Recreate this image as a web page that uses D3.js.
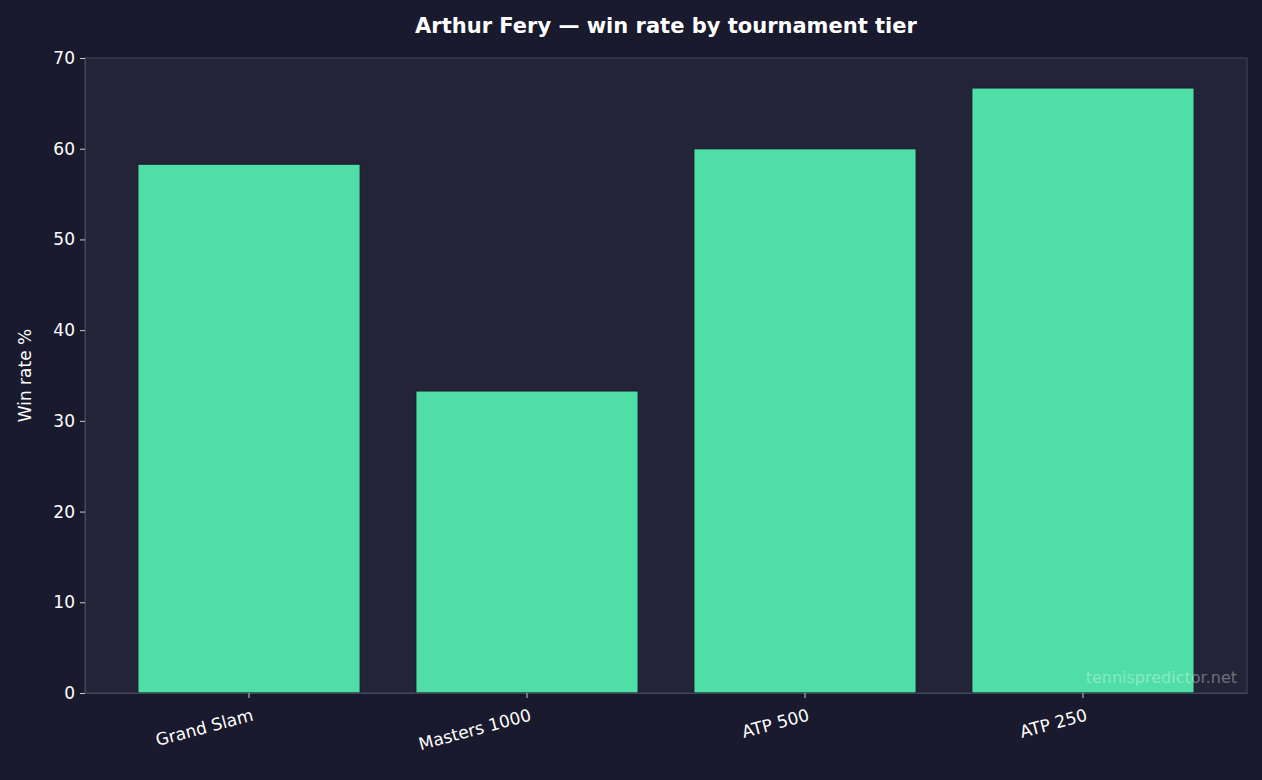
<!DOCTYPE html>
<html>
<head>
<meta charset="utf-8">
<script src="https://cdn.jsdelivr.net/npm/d3@7"></script>
<style>
  body { margin: 0; background: #1a1a2e; }
  text { font-family: "DejaVu Sans", sans-serif; }
</style>
</head>
<body>
<div id="chart"></div>
<script>
const tiers = ["Grand Slam", "Masters 1000", "ATP 500", "ATP 250"];
const winRates = [58.3, 33.3, 60.0, 66.7];
const yTicks = [0, 10, 20, 30, 40, 50, 60, 70];

const width = 1262, height = 780;
const margin = {left: 85, right: 15, top: 58, bottom: 87};

const svg = d3.select("#chart").append("svg")
    .attr("width", width)
    .attr("height", height);

svg.append("rect").attr("width", width).attr("height", height).attr("fill", "#1a1a2e");

const x = d3.scaleBand()
    .domain(tiers)
    .range([margin.left, width - margin.right])
    .paddingInner(0.2)
    .paddingOuter(0.19);

const y = d3.scaleLinear()
    .domain([0, 70])
    .range([height - margin.bottom, margin.top]);

// plot background
svg.append("rect")
    .attr("x", margin.left).attr("y", margin.top)
    .attr("width", width - margin.left - margin.right)
    .attr("height", height - margin.top - margin.bottom)
    .attr("fill", "#232438")
    .attr("stroke", "#44465a");

svg.selectAll(".bar")
    .data(winRates)
    .enter().append("rect")
    .attr("class", "bar")
    .attr("x", (d, i) => x(tiers[i]))
    .attr("y", d => y(d))
    .attr("width", x.bandwidth())
    .attr("height", d => y(0) - y(d))
    .attr("fill", "#4fdea5")
    .attr("stroke", "#1a1a2e")
    .attr("stroke-width", 1.2);

// axes
let xAxis = svg.append("g")
    .attr("transform", "translate(0," + (height - margin.bottom) + ")")
    .call(d3.axisBottom(x).tickSize(5).tickSizeOuter(0));
xAxis.select(".domain").attr("stroke", "#44465a");
xAxis.selectAll("line").attr("stroke", "#cccccc");
xAxis.selectAll("text")
    .attr("fill", "#ffffff")
    .attr("font-size", 17)
    .attr("text-anchor", "end")
    .attr("transform", "translate(0,8) rotate(-15)")
    .attr("dy", "0.7em")
    .attr("dx", "0");

let yAxis = svg.append("g")
    .attr("transform", "translate(" + margin.left + ",0)")
    .call(d3.axisLeft(y).tickValues(yTicks).tickSize(5).tickSizeOuter(0));
yAxis.select(".domain").attr("stroke", "#44465a");
yAxis.selectAll("line").attr("stroke", "#cccccc");
yAxis.selectAll("text")
    .attr("fill", "#ffffff")
    .attr("font-size", 17)
    .attr("x", -10);

// labels
svg.append("text")
    .attr("text-anchor", "middle")
    .attr("transform", "translate(31," + ((margin.top + height - margin.bottom) / 2) + ") rotate(-90)")
    .attr("fill", "#ffffff")
    .attr("font-size", 17)
    .text("Win rate %");

svg.append("text")
    .attr("x", 666).attr("y", 33)
    .attr("text-anchor", "middle")
    .attr("fill", "#ffffff")
    .attr("font-size", 21)
    .attr("font-weight", "bold")
    .text("Arthur Fery — win rate by tournament tier");

svg.append("text")
    .attr("x", 1237).attr("y", 683)
    .attr("text-anchor", "end")
    .attr("fill", "#ffffff")
    .attr("fill-opacity", 0.35)
    .attr("font-size", 16)
    .text("tennispredictor.net");
</script>
</body>
</html>
